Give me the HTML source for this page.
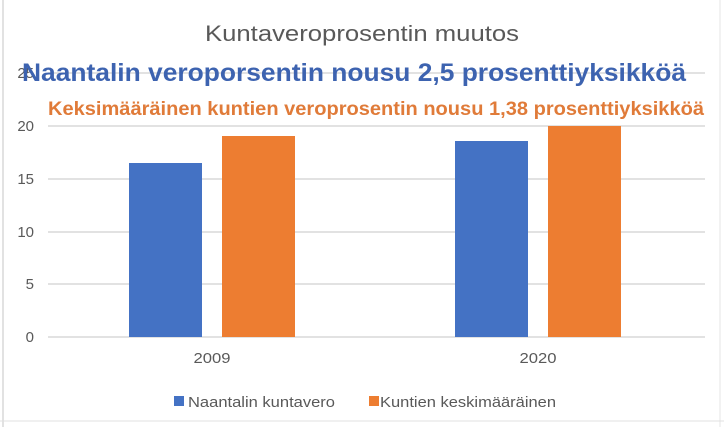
<!DOCTYPE html>
<html><head><meta charset="utf-8"><style>
body{margin:0;background:#fff;}
svg text{font-family:"Liberation Sans",sans-serif;}
</style></head><body>
<svg width="724" height="427" viewBox="0 0 724 427" xmlns="http://www.w3.org/2000/svg">
<rect x="0" y="0" width="724" height="427" fill="#fff"/>
<line x1="3" y1="0" x2="3" y2="427" stroke="#d9d9d9" stroke-width="1.5"/>
<line x1="720" y1="0" x2="720" y2="427" stroke="#e6e6e6" stroke-width="1"/>
<line x1="0" y1="421" x2="724" y2="421" stroke="#e0e0e0" stroke-width="1"/>
<g stroke="#d9d9d9" stroke-width="1.5">
<line x1="48" y1="73" x2="705" y2="73"/>
<line x1="48" y1="126" x2="705" y2="126"/>
<line x1="48" y1="179" x2="705" y2="179"/>
<line x1="48" y1="232" x2="705" y2="232"/>
<line x1="48" y1="284" x2="705" y2="284"/>
<line x1="48" y1="337" x2="705" y2="337"/>
</g>
<g font-size="15" fill="#595959" text-anchor="end">
<text x="34" y="78">25</text>
<text x="34" y="131">20</text>
<text x="34" y="184">15</text>
<text x="34" y="237">10</text>
<text x="34" y="289">5</text>
<text x="34" y="342">0</text>
</g>
<rect x="129" y="163" width="73" height="174" fill="#4472c4"/>
<rect x="222" y="136" width="73" height="201" fill="#ed7d31"/>
<rect x="455" y="141" width="73" height="196" fill="#4472c4"/>
<rect x="548" y="126" width="73" height="211" fill="#ed7d31"/>
<g font-size="15" fill="#595959" text-anchor="middle">
<text x="212" y="363" textLength="37" lengthAdjust="spacingAndGlyphs">2009</text>
<text x="538" y="363" textLength="37" lengthAdjust="spacingAndGlyphs">2020</text>
</g>
<text x="362" y="41" font-size="22" fill="#595959" text-anchor="middle" textLength="314" lengthAdjust="spacingAndGlyphs">Kuntaveroprosentin muutos</text>
<text x="354" y="81" font-size="25" font-weight="bold" fill="#3d63b0" text-anchor="middle" textLength="664" lengthAdjust="spacingAndGlyphs">Naantalin veroporsentin nousu 2,5 prosenttiyksikköä</text>
<text x="376" y="115" font-size="19" font-weight="bold" fill="#e07b39" text-anchor="middle" textLength="656" lengthAdjust="spacingAndGlyphs">Keksimääräinen kuntien veroprosentin nousu 1,38 prosenttiyksikköä</text>
<rect x="174" y="396" width="10" height="10" fill="#4472c4"/>
<text x="188" y="407" font-size="15" fill="#595959" textLength="147" lengthAdjust="spacingAndGlyphs">Naantalin kuntavero</text>
<rect x="369" y="396" width="10" height="10" fill="#ed7d31"/>
<text x="380" y="407" font-size="15" fill="#595959" textLength="176" lengthAdjust="spacingAndGlyphs">Kuntien keskimääräinen</text>
</svg>
</body></html>
